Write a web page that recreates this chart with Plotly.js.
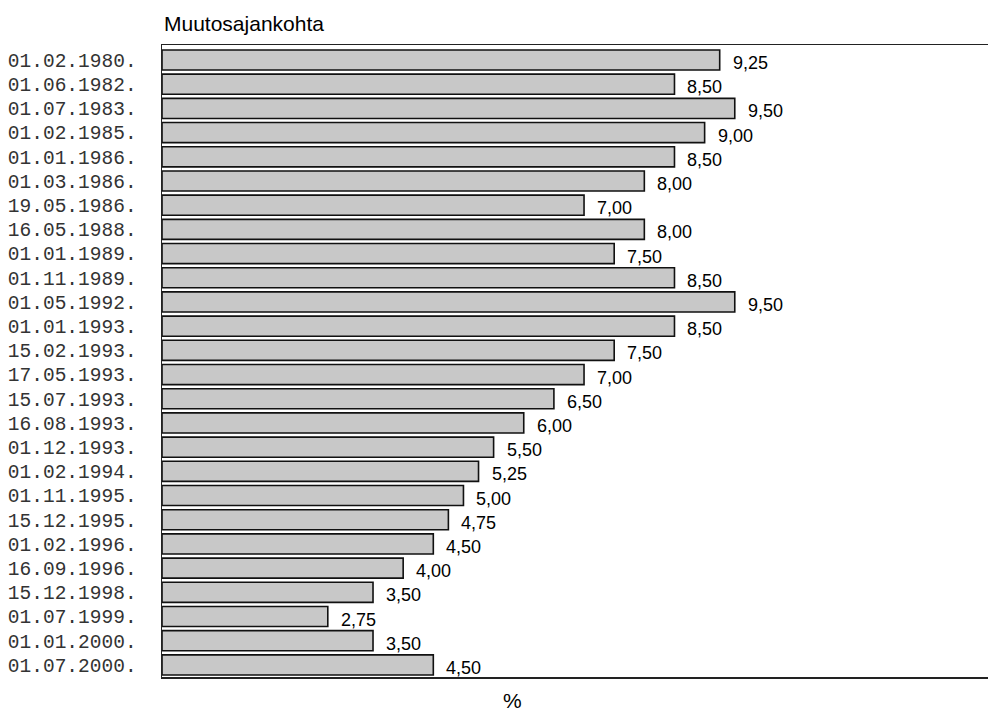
<!DOCTYPE html>
<html>
<head>
<meta charset="utf-8">
<script src="https://cdn.plot.ly/plotly-3.0.1.min.js"></script>
<style>html,body{margin:0;padding:0;background:#fff}#chart{width:988px;height:711px}</style>
</head>
<body>
<div id="chart"></div>
<script>
const dates = ["01.02.1980.","01.06.1982.","01.07.1983.","01.02.1985.","01.01.1986.","01.03.1986.","19.05.1986.","16.05.1988.","01.01.1989.","01.11.1989.","01.05.1992.","01.01.1993.","15.02.1993.","17.05.1993.","15.07.1993.","16.08.1993.","01.12.1993.","01.02.1994.","01.11.1995.","15.12.1995.","01.02.1996.","16.09.1996.","15.12.1998.","01.07.1999.","01.01.2000.","01.07.2000."];
const rates = [9.25,8.50,9.50,9.00,8.50,8.00,7.00,8.00,7.50,8.50,9.50,8.50,7.50,7.00,6.50,6.00,5.50,5.25,5.00,4.75,4.50,4.00,3.50,2.75,3.50,4.50];
const labels = rates.map(v => v.toFixed(2).replace('.', ','));
const titleText = "Muutosajankohta";
const unitText = "%";

const trace = {
  type: 'bar', orientation: 'h',
  x: rates, y: dates,
  marker: {color: '#c8c8c8', line: {color: '#111', width: 1.6}},
  hoverinfo: 'none'
};

const annotations = rates.map((v, i) => ({
  x: v, y: dates[i], xref: 'x', yref: 'y',
  text: labels[i], showarrow: false,
  xanchor: 'left', yanchor: 'middle', xshift: 11, yshift: -3,
  font: {family: 'Liberation Sans, Arial, sans-serif', size: 18, color: '#000'}
}));
annotations.push({
  x: 0.424, y: -0.037, xref: 'paper', yref: 'paper',
  text: unitText, showarrow: false, xanchor: 'center', yanchor: 'middle',
  font: {family: 'Liberation Sans, Arial, sans-serif', size: 21, color: '#000'}
});

const layout = {
  width: 988, height: 711,
  margin: {l: 162, r: 0, t: 45, b: 34},
  paper_bgcolor: '#fff', plot_bgcolor: '#fff',
  title: {text: titleText, x: 0.166, xref: 'container', xanchor: 'left', y: 1 - 24/711, yanchor: 'middle',
          font: {family: 'Liberation Sans, Arial, sans-serif', size: 21, color: '#000'}},
  bargap: 0.17,
  showlegend: false,
  xaxis: {range: [0, 13.7], showgrid: false, zeroline: false, showticklabels: false, ticks: '',
          showline: true, mirror: true, linecolor: '#222', linewidth: 1.5, fixedrange: true},
  yaxis: {type: 'category', autorange: 'reversed', showgrid: false, zeroline: false,
          showline: true, linecolor: '#222', linewidth: 1.5,
          ticks: '', ticklabelstandoff: 20,
          tickfont: {family: 'Liberation Mono', size: 19.5, color: '#333'}},
  annotations: annotations
};

Plotly.newPlot('chart', [trace], layout, {displayModeBar: false, staticPlot: true});
</script>
</body>
</html>
